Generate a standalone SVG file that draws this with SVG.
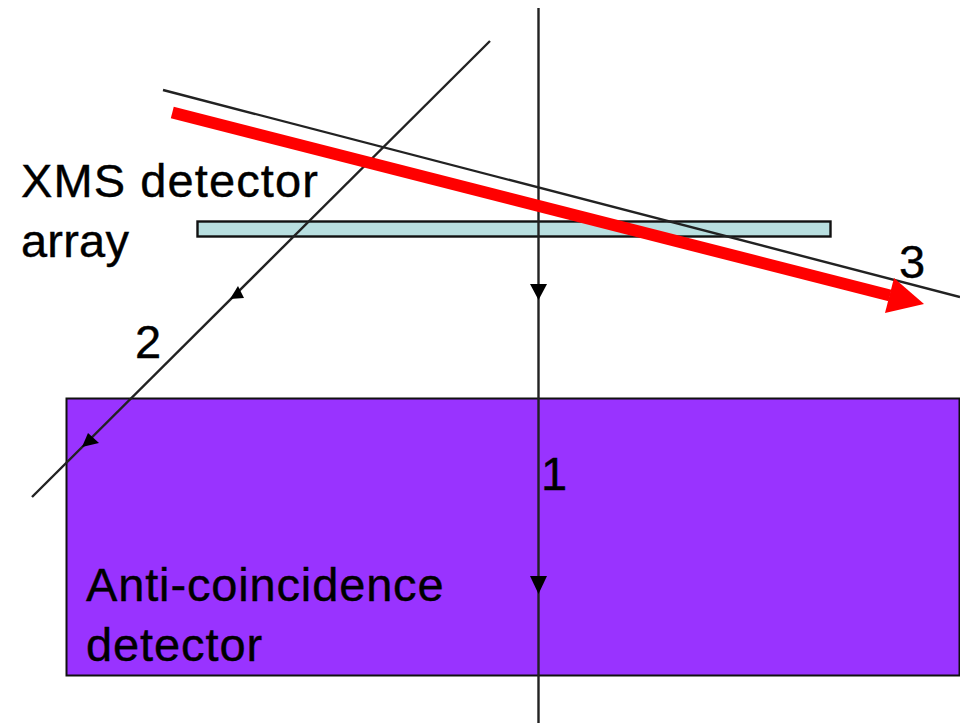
<svg xmlns="http://www.w3.org/2000/svg" width="960" height="723" viewBox="0 0 960 723">
<style>
text{font-family:"Liberation Sans",Arial,sans-serif;fill:#000;font-size:47px;stroke:#000;stroke-width:.4}
.l{stroke:#222;stroke-width:2.4;fill:none}
.h{fill:#000;stroke:none}
</style>
<rect width="960" height="723" fill="#fff"/>
<g id="anti-coincidence-detector">
<rect x="66.500" y="398.500" width="893" height="277" fill="#9933ff" stroke="#111" stroke-width="2"/>
<text x="86" y="601" letter-spacing="0.85">Anti-coincidence</text>
<text x="86" y="661" letter-spacing="0.9">detector</text>
</g>
<g id="xms-detector-array">
<rect x="197.500" y="221.500" width="633" height="15" fill="#b8dfe0" stroke="#111" stroke-width="2.400"/>
<text x="21" y="197" letter-spacing="1.1">XMS detector</text>
<text x="21" y="257" letter-spacing="0.2">array</text>
</g>
<g id="connectors">
<line class="l" x1="538.500" y1="8" x2="538.500" y2="723"/>
<polygon class="h" points="530,284 547,284 538.500,300"/>
<polygon class="h" points="530,576 547,576 538.500,594"/>
<line class="l" x1="490" y1="41" x2="32" y2="497"/>
<polygon class="h" points="238,286 230,299 244,298"/>
<polygon class="h" points="88,433 82,447 99,443"/>
<line class="l" x1="163" y1="90" x2="960" y2="297"/>
<line x1="172.300" y1="112.500" x2="890" y2="295.500" stroke="#ff0000" stroke-width="12"/>
<polygon points="894,278 924,304 885,313" fill="#ff0000"/>
</g>
<g id="labels">
<text x="135" y="358">2</text>
<text x="541" y="490">1</text>
<text x="899" y="278">3</text>
</g>
</svg>
